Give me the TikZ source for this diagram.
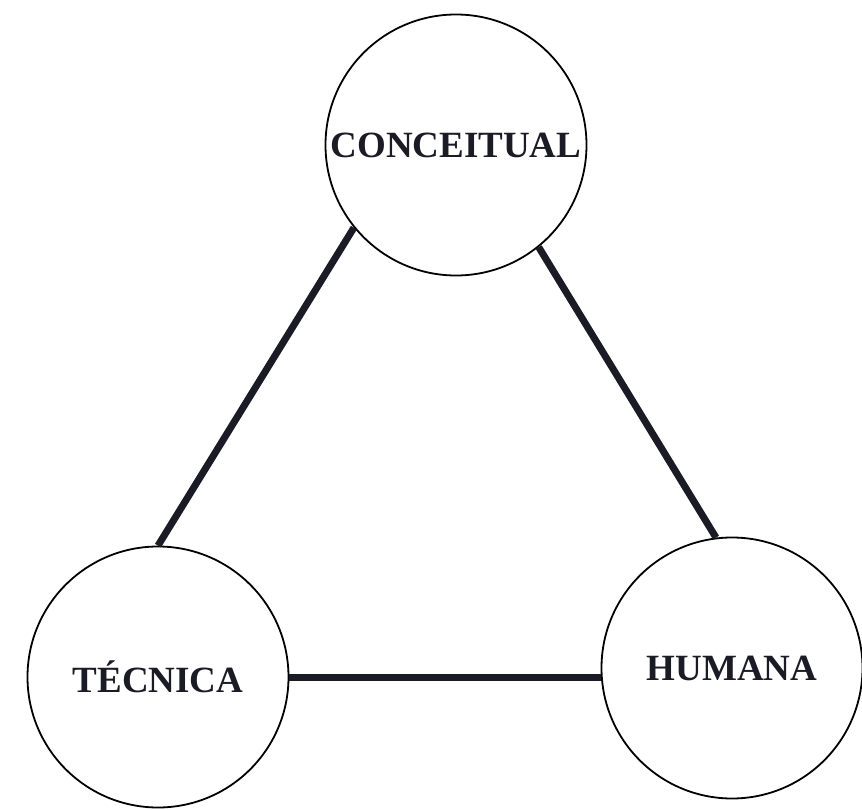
\documentclass[tikz,border=0pt]{standalone}
\usepackage{fontspec}
\setmainfont{Liberation Serif}
\definecolor{ink}{HTML}{1B1B26}
\begin{document}
\begin{tikzpicture}[x=1pt,y=-1pt,
  pole/.style={circle, draw=black, line width=1.8pt, fill=white,
    minimum size=261pt, inner sep=0pt, text=ink,
    font=\fontsize{37}{40}\selectfont\bfseries},
  link/.style={draw=ink, line width=7pt}]
  \useasboundingbox (0,0) rectangle (862,810);
  % the three vertices
  \node[pole] (c) at (456,145) {CONCEITUAL};
  \node[pole] (t) at (158,677) {TÉCNICA};
  \node[pole] (h) at (732,668) {HUMANA};
  % connecting edges
  \draw[link] (c.219) -- (t.90);
  \draw[link] (c.-51) -- (h.97);
  \draw[link] (t.east) -- (t.east -| h.west);
\end{tikzpicture}
\end{document}
